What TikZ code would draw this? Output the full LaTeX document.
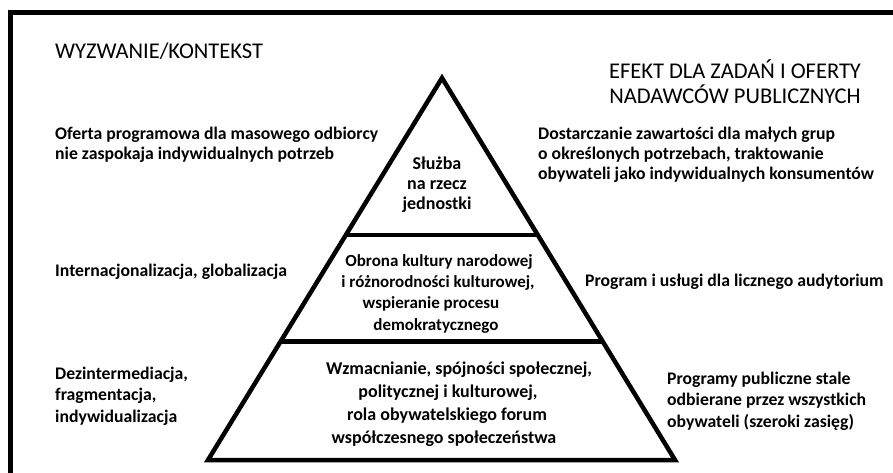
\documentclass[tikz,border=0pt]{standalone}
\usepackage{fontspec}
\setmainfont{Carlito}
\newcommand{\padln}[1]{\rule{#1}{0pt}}
\begin{document}
\begin{tikzpicture}[x=1pt,y=-1pt,
  frameline/.style={line width=5pt},
  pyrline/.style={line width=4.5pt, line join=miter},
  sidetext/.style={inner sep=0pt, anchor=base west, align=left, font=\fontsize{17.7}{20}\selectfont\bfseries},
  pyrtext/.style={inner sep=0pt, anchor=base, align=center, font=\fontsize{18}{22.5}\selectfont\bfseries},
  headtext/.style={inner sep=0pt, font=\fontsize{22.5}{25}\selectfont}]
\useasboundingbox (0,0) rectangle (893,473);
\begin{scope}
\clip (0,0) rectangle (893,473);
\draw[frameline] (10,12.5) rectangle (920,500);
\end{scope}
% pyramid
\coordinate (apex) at (442,78);
\coordinate (bl) at (208,460);
\coordinate (br) at (675,460);
\draw[pyrline] (apex) -- (bl) -- (br) -- cycle;
\path (apex) -- (bl) coordinate[pos=0.411] (a1) coordinate[pos=0.69] (a2);
\path (apex) -- (br) coordinate[pos=0.411] (b1) coordinate[pos=0.69] (b2);
\draw[pyrline] (a1) -- (b1);
\draw[pyrline] (a2) -- (b2);
% headings (anchor base = last line)
\node[headtext, anchor=base west] (h1) at (55,59) {WYZWANIE/KONTEKST};
\node[headtext, anchor=base, align=center] (h2) at (735,104) {EFEKT DLA ZADAŃ I OFERTY\\NADAWCÓW PUBLICZNYCH};
% left texts
\node[sidetext] (l1t) at (55,159.5) {Oferta programowa dla masowego odbiorcy\\nie zaspokaja indywidualnych potrzeb};
\node[sidetext] (l2t) at (55,276) {Internacjonalizacja, globalizacja};
\node[sidetext, font=\fontsize{17.7}{21.5}\selectfont\bfseries] (l3t) at (55,422) {Dezintermediacja,\\fragmentacja,\\indywidualizacja};
% right texts
\node[sidetext] (r1t) at (538,179.5) {Dostarczanie zawartości dla małych grup\\o określonych potrzebach, traktowanie\\obywateli jako indywidualnych konsumentów};
\node[sidetext] (r2t) at (585,286) {Program i usługi dla licznego audytorium};
\node[sidetext, font=\fontsize{17.7}{21.5}\selectfont\bfseries] (r3t) at (667,427) {Programy publiczne stale\\odbierane przez wszystkich\\obywateli (szeroki zasięg)};
% pyramid texts
\node[pyrtext, font=\fontsize{18}{20}\selectfont\bfseries] (p1) at (437,209.5) {Służba\\na rzecz\\jednostki};
\node[pyrtext, font=\fontsize{17}{21.2}\selectfont\bfseries] (p2) at (438,330) {\padln{2pt}Obrona kultury narodowej\\i różnorodności kulturowej,\\wspieranie procesu\padln{14pt}\\demokratycznego\padln{4pt}};
\node[pyrtext, font=\fontsize{18}{23}\selectfont\bfseries] (p3) at (450,443.5) {\padln{18pt}Wzmacnianie, spójności społecznej,\\politycznej i kulturowej,\padln{4pt}\\rola obywatelskiego forum\padln{6pt}\\współczesnego społeczeństwa\padln{12pt}};
\end{tikzpicture}
\end{document}
